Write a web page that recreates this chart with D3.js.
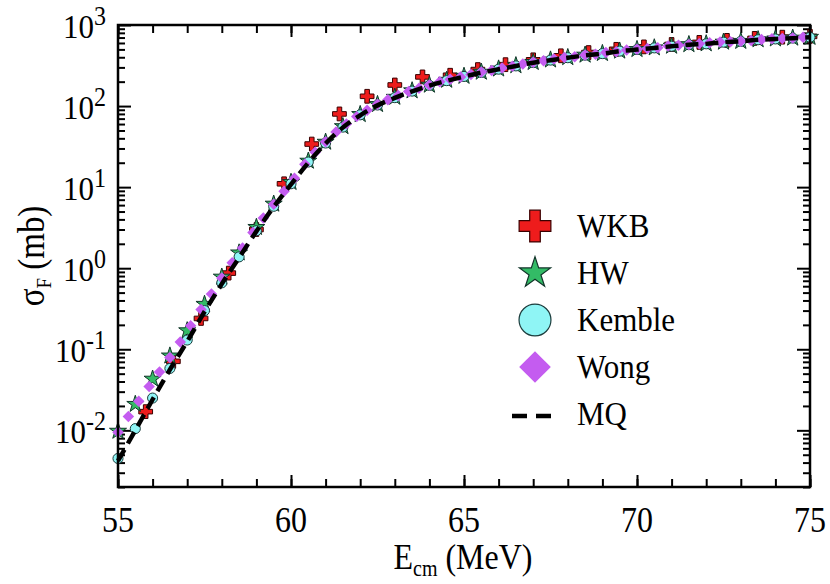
<!DOCTYPE html>
<html>
<head>
<meta charset="utf-8">
<script src="https://cdn.jsdelivr.net/npm/d3@7"></script>
<style>
  body { margin: 0; background: #fff; }
  svg text { font-family: "Liberation Serif", "DejaVu Serif", serif !important; fill: #000; }
</style>
</head>
<body>
<div id="chart"></div>
<script>
// energy grid (MeV) shared by HW, Kemble and MQ
var gridE = [55.0, 55.5, 56.0, 56.5, 57.0, 57.5, 58.0, 58.5, 59.0, 59.5,
             60.0, 60.5, 61.0, 61.5, 62.0, 62.5, 63.0, 63.5, 64.0, 64.5,
             65.0, 65.5, 66.0, 66.5, 67.0, 67.5, 68.0, 68.5, 69.0, 69.5,
             70.0, 70.5, 71.0, 71.5, 72.0, 72.5, 73.0, 73.5, 74.0, 74.5, 75.0];

var hwSigma = [0.0098, 0.021, 0.043, 0.083, 0.17, 0.36, 0.78, 1.55, 3.2, 6.2,
               11.5, 21, 36, 56, 79, 105, 129, 155, 182, 209,
               234, 263, 288, 316, 347, 372, 398, 427, 447, 479,
               501, 525, 550, 575, 589, 617, 631, 661, 676, 692, 708];

var kembleSigma = [0.0045, 0.0105, 0.025, 0.058, 0.13, 0.30, 0.66, 1.38, 2.9, 5.8,
                   11, 20.4, 35, 55, 78, 103, 127, 153, 180, 206,
                   232, 260, 285, 313, 344, 369, 395, 424, 444, 476,
                   498, 522, 547, 572, 586, 614, 628, 658, 673, 689, 705];

var mqSigma = [0.0042, 0.0100, 0.024, 0.056, 0.125, 0.29, 0.64, 1.35, 2.85, 5.7,
               10.8, 20, 34.5, 54.5, 77, 102, 126, 152, 179, 205,
               231, 259, 284, 312, 343, 368, 394, 423, 443, 475,
               497, 521, 546, 571, 585, 613, 627, 657, 672, 688, 704];

var wkbE = [55.8, 56.6, 57.4, 58.2, 59.0, 59.8, 60.6, 61.4, 62.2, 63.0, 63.8, 64.6, 65.4,
            66.2, 67.0, 67.8, 68.6, 69.4, 70.2, 71.0, 71.8, 72.6, 73.4, 74.2, 75.0];
var wkbSigma = [0.017, 0.071, 0.24, 0.87, 3.0, 11, 34, 80, 132, 182, 229, 240, 282,
                324, 372, 417, 457, 501, 537, 575, 610, 646, 684, 708, 724];

var wongE = [55.0, 55.3, 55.6, 55.9, 56.2, 56.5, 56.8, 57.1, 57.4, 57.7,
             58.0, 58.3, 58.6, 58.9, 59.2, 59.5, 59.8, 60.1, 60.4, 60.7,
             61.0, 61.3, 61.6, 61.9, 62.2, 62.5, 62.8, 63.1, 63.4, 63.7,
             64.0, 64.3, 64.6, 64.9, 65.2, 65.5, 65.8, 66.1, 66.4, 66.7,
             67.0, 67.3, 67.6, 67.9, 68.2, 68.5, 68.8, 69.1, 69.4, 69.7,
             70.0, 70.3, 70.6, 70.9, 71.2, 71.5, 71.8, 72.1, 72.4, 72.7,
             73.0, 73.3, 73.6, 73.9, 74.2, 74.5, 74.8];
var wongSigma = [0.0095, 0.0148, 0.0229, 0.0347, 0.0525, 0.0794, 0.123, 0.195, 0.309, 0.479,
                 0.759, 1.17, 1.78, 2.75, 4.17, 6.17, 8.91, 12.9, 19.1, 26.9,
                 36.3, 47.9, 60.3, 74.1, 89.1, 105, 120, 135, 151, 166,
                 182, 200, 214, 229, 245, 263, 275, 295, 309, 331,
                 347, 363, 380, 398, 407, 427, 437, 457, 468, 490,
                 501, 513, 525, 550, 562, 575, 589, 603, 617, 620,
                 631, 646, 661, 676, 680, 692, 708];

var xTickLabels = [55, 60, 65, 70, 75];
var yTickExps = [-2, -1, 0, 1, 2, 3];
var legendNames = ["WKB", "HW", "Kemble", "Wong", "MQ"];

var W = 830, H = 584;
var plotL = 118, plotR = 810, plotT = 25, plotB = 487;
var stretch = 1.12;   // the source figure's text is a bit taller than wide
var serif = "'Liberation Serif', 'DejaVu Serif', serif";

var svg = d3.select("#chart").append("svg")
    .attr("width", W).attr("height", H);

var x = d3.scaleLinear().domain([55, 75]).range([plotL, plotR]);
var y = d3.scaleLog().domain([0.002, 1000]).range([plotB, plotT]);

// minor log ticks
var yMinor = [];
for (var d = -3; d <= 2; d++) {
    for (var m = 2; m <= 9; m++) {
        var v = m * Math.pow(10, d);
        if (v >= 0.002 && v <= 1000) yMinor.push(v);
    }
}
var yMajor = yTickExps.map(function(e) { return Math.pow(10, e); });
var xMinor = d3.range(55, 76, 1);

function ticks(axis, pos, vals, size) {
    var g = svg.append("g")
        .attr("transform", pos)
        .call(axis.tickValues(vals).tickSize(size).tickFormat(""));
    g.select(".domain").remove();
    g.selectAll(".tick line").attr("stroke", "#000").attr("stroke-width", 2);
}
ticks(d3.axisLeft(y), "translate(" + plotL + ",0)", yMinor, -7);
ticks(d3.axisLeft(y), "translate(" + plotL + ",0)", yMajor, -13);
ticks(d3.axisRight(y), "translate(" + plotR + ",0)", yMinor, -7);
ticks(d3.axisRight(y), "translate(" + plotR + ",0)", yMajor, -13);
ticks(d3.axisBottom(x), "translate(0," + plotB + ")", xMinor, -8);
ticks(d3.axisBottom(x), "translate(0," + plotB + ")", xTickLabels, -12);
ticks(d3.axisTop(x), "translate(0," + plotT + ")", xMinor, -8);
ticks(d3.axisTop(x), "translate(0," + plotT + ")", xTickLabels, -12);

function at(px, py) {
    return "translate(" + px + "," + py + ") scale(1," + stretch + ")";
}

// tick labels
svg.append("g").selectAll("text")
    .data(xTickLabels).enter().append("text")
    .attr("transform", function(d) { return at(x(d), 532); })
    .attr("text-anchor", "middle")
    .style("font-family", serif)
    .style("font-size", "32px")
    .text(function(d) { return d; });

var yl = svg.append("g").selectAll("text")
    .data(yTickExps).enter().append("text")
    .attr("transform", function(d) { return at(106, y(Math.pow(10, d)) + 13); })
    .attr("text-anchor", "end")
    .style("font-family", serif)
    .style("font-size", "31px");
yl.append("tspan").text("10");
yl.append("tspan").attr("dy", -12).style("font-size", "24px")
    .text(function(d) { return d < 0 ? "-" + (-d) : d; });

// axis titles
var xt = svg.append("text")
    .attr("transform", at(463, 569))
    .attr("text-anchor", "middle")
    .style("font-family", serif)
    .style("font-size", "32px");
xt.append("tspan").text("E");
xt.append("tspan").attr("dy", 6).style("font-size", "20px").text("cm");
xt.append("tspan").attr("dy", -6).text(" (MeV)");

var yt = svg.append("text")
    .attr("transform", "translate(44,256) rotate(-90) scale(1," + stretch + ")")
    .attr("text-anchor", "middle")
    .style("font-family", serif)
    .style("font-size", "33px");
yt.append("tspan").text("\u03c3");
yt.append("tspan").attr("dy", 6).style("font-size", "19px").text("F");
yt.append("tspan").attr("dy", -6).text(" (mb)");

// markers
var sym = {
    WKB: { type: d3.symbolCross, fill: "#ee1c1c", stroke: "#3a0000", size: 105, lsize: 560, rot: 0 },
    HW: { type: d3.symbolStar, fill: "#33bb66", stroke: "#12352a", size: 90, lsize: 300, rot: 0 },
    Kemble: { type: d3.symbolCircle, fill: "#8ff5f5", stroke: "#1c3c3c", size: 80, lsize: 800, rot: 0 },
    Wong: { type: d3.symbolSquare, fill: "#c45cf0", stroke: "none", size: 66, lsize: 500, rot: 45 }
};

function drawSeries(name, es, sig) {
    var s = sym[name];
    var pts = es.map(function(e, i) { return [e, sig[i]]; });
    svg.append("g").selectAll("path")
        .data(pts).enter().append("path")
        .attr("d", d3.symbol().type(s.type).size(s.size))
        .attr("transform", function(d) {
            return "translate(" + x(d[0]) + "," + y(d[1]) + ") rotate(" + s.rot + ")";
        })
        .attr("fill", s.fill)
        .attr("stroke", s.stroke)
        .attr("stroke-width", 1);
}
drawSeries("WKB", wkbE, wkbSigma);
drawSeries("HW", gridE, hwSigma);
drawSeries("Kemble", gridE, kembleSigma);
drawSeries("Wong", wongE, wongSigma);

var line = d3.line()
    .x(function(d) { return x(d[0]); })
    .y(function(d) { return y(d[1]); })
    .curve(d3.curveMonotoneX);
svg.append("path")
    .datum(gridE.map(function(e, i) { return [e, mqSigma[i]]; }))
    .attr("d", line)
    .attr("fill", "none")
    .attr("stroke", "#000")
    .attr("stroke-width", 4.5)
    .attr("stroke-dasharray", "13,7");

// frame
svg.append("rect")
    .attr("x", plotL).attr("y", plotT)
    .attr("width", plotR - plotL).attr("height", plotB - plotT)
    .attr("fill", "none").attr("stroke", "#000").attr("stroke-width", 2.5);

// legend
var lg = svg.append("g");
legendNames.forEach(function(name, i) {
    var cy = 226 + i * 47;
    if (name === "MQ") {
        lg.append("line")
            .attr("x1", 512).attr("x2", 552).attr("y1", cy + 2).attr("y2", cy + 2)
            .attr("stroke", "#000").attr("stroke-width", 4.5)
            .attr("stroke-dasharray", "15,9");
    } else {
        var s = sym[name];
        lg.append("path")
            .attr("d", d3.symbol().type(s.type).size(s.lsize))
            .attr("transform", "translate(535," + cy + ") rotate(" + s.rot + ")")
            .attr("fill", s.fill)
            .attr("stroke", s.stroke)
            .attr("stroke-width", 1.2);
    }
    lg.append("text")
        .attr("transform", at(577, cy + 11))
        .style("font-family", serif)
        .style("font-size", "31px")
        .text(name);
});
</script>
</body>
</html>
